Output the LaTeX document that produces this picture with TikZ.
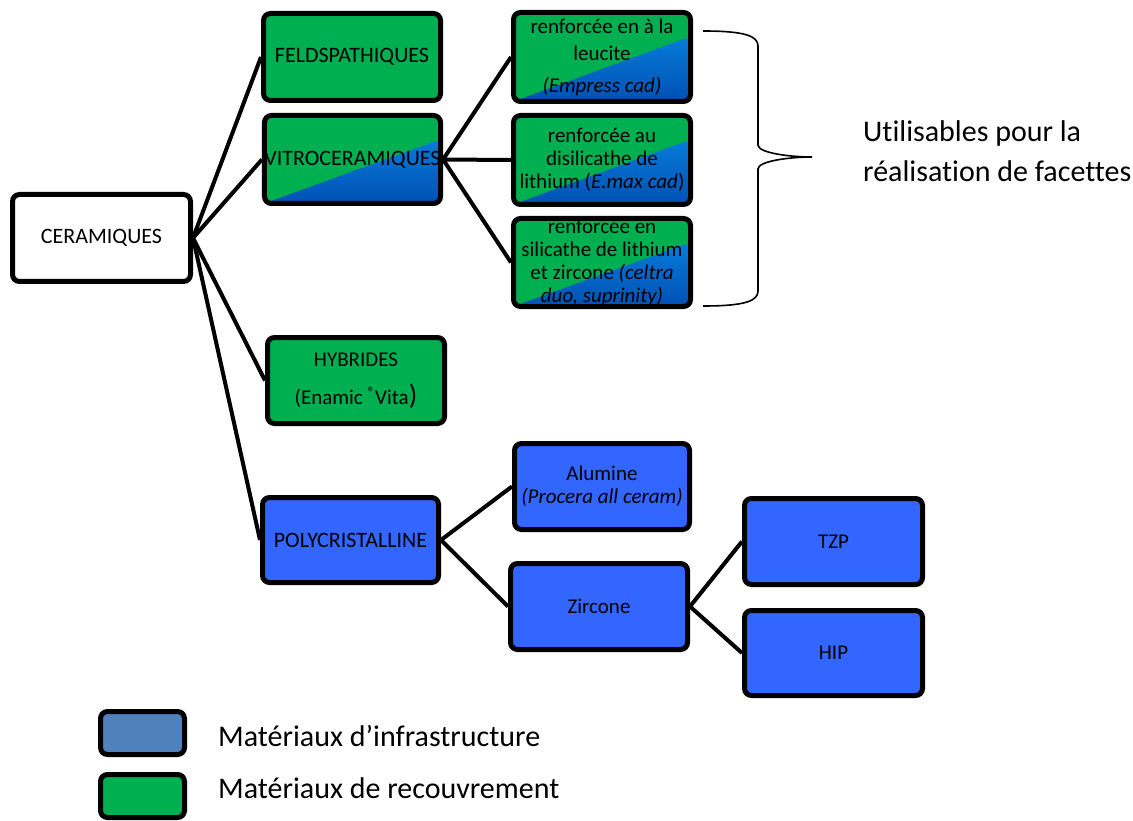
\documentclass[tikz,border=0pt]{standalone}
\usepackage{fontspec}
\setmainfont{Carlito}[Ligatures=NoCommon]
\usetikzlibrary{calc}
\definecolor{grn}{HTML}{00B050}
\definecolor{blu}{HTML}{3366FF}
\definecolor{legblu}{HTML}{4F81BD}
\definecolor{gbl}{HTML}{0A8CE6}
\definecolor{gbd}{HTML}{0050B4}
\tikzset{
  box/.style={draw=black, line width=5pt, rounded corners=7pt, inner sep=0pt,
    align=center, font=\fontsize{21}{23}\selectfont},
  capsfont/.style={font=\fontsize{22}{23}\selectfont},
  whitebox/.style={box, fill=white},
  greenbox/.style={box, fill=grn},
  bluebox/.style={box, fill=blu},
  mixbox/.style={box, fill=grn, path picture={
     \shade[top color=gbl, bottom color=gbd]
       (path picture bounding box.south west)
       -- ($(path picture bounding box.north east)!0.27!(path picture bounding box.south east)$)
       -- (path picture bounding box.south east) -- cycle;}},
  legbox/.style={draw=black, line width=5pt, rounded corners=7pt, minimum width=84pt, minimum height=43pt},
  conn/.style={draw=black, line width=4pt},
  bracestyle/.style={draw=black, line width=1.6pt},
  bigtext/.style={inner sep=0pt, font=\fontsize{30}{40}\selectfont}
}
\begin{document}
\begin{tikzpicture}[x=1pt, y=-1pt]
\useasboundingbox (0,0) rectangle (1133,821);

\node[whitebox, capsfont, minimum width=178pt, minimum height=87pt] (cer) at (101.5,238) {CERAMIQUES};
\node[greenbox, capsfont, minimum width=177pt, minimum height=87pt] (feld) at (352,57) {FELDSPATHIQUES};
\node[mixbox, capsfont, minimum width=176pt, minimum height=88pt] (vitro) at (352.5,159.5) {VITROCERAMIQUES};
\node[mixbox, minimum width=177pt, minimum height=89pt] (b1) at (602,57)
  {renforcée en à la\\[4pt]leucite\\[9pt]\textit{(Empress cad)}};
\node[mixbox, minimum width=177pt, minimum height=89pt] (b2) at (602,160)
  {renforcée au\\disilicathe de\\lithium (\textit{E.max cad})};
\node[mixbox, minimum width=177pt, minimum height=88pt] (b3) at (602,262.5)
  {renforcée en\\silicathe de lithium\\et zircone \textit{(celtra}\\\textit{duo, suprinity)}};
\node[greenbox, minimum width=177pt, minimum height=86pt] (hyb) at (356,380.5)
  {HYBRIDES\\[15pt](Enamic \raisebox{0.32em}{\fontsize{15}{15}\selectfont ®}Vita{\fontsize{28}{23}\selectfont )}};
\node[bluebox, capsfont, minimum width=176pt, minimum height=85pt] (poly) at (350.5,540) {POLYCRISTALLINE};
\node[bluebox, minimum width=175pt, minimum height=86pt] (alu) at (602,486.5)
  {Alumine\\\textit{(Procera all ceram)}};
\node[bluebox, minimum width=177pt, minimum height=86pt] (zir) at (599,606.5) {Zircone};
\node[bluebox, minimum width=178pt, minimum height=86pt] (tzp) at (833.5,541.5) {TZP};
\node[bluebox, minimum width=178pt, minimum height=85pt] (hip) at (833.5,653) {HIP};

\draw[conn] (cer.east) -- (feld.west);
\draw[conn] (cer.east) -- (vitro.west);
\draw[conn] (cer.east) -- (hyb.west);
\draw[conn] (cer.east) -- (poly.west);
\draw[conn] (vitro.east) -- (b1.west);
\draw[conn] (vitro.east) -- (b2.west);
\draw[conn] (vitro.east) -- (b3.west);
\draw[conn] (poly.east) -- (alu.west);
\draw[conn] (poly.east) -- (zir.west);
\draw[conn] (zir.east) -- (tzp.west);
\draw[conn] (zir.east) -- (hip.west);

% brace
\coordinate (bracetop) at (703,31);
\coordinate (bracetip) at (812,157);
\coordinate (bracebot) at (703,306);
\draw[bracestyle] (bracetop) .. controls (745,31) and (758,36) .. (758,46) -- (758,145)
  .. controls (758,153) and (790,157) .. (bracetip)
  .. controls (790,157) and (758,161) .. (758,169) -- (758,291)
  .. controls (758,301) and (745,306) .. (bracebot);
\node[bigtext, anchor=base west] (fac1) at (863,142) {Utilisables pour la};
\node[bigtext, anchor=base west] (fac2) at (863,182) {réalisation de facettes};

% legend
\node[legbox, fill=legblu] (leg1) at (142.5,733) {};
\node[legbox, fill=grn] (leg2) at (142.5,796) {};
\node[bigtext, anchor=base west] (legt1) at (218,746) {Matériaux d’infrastructure};
\node[bigtext, anchor=base west] (legt2) at (218,798) {Matériaux de recouvrement};
\end{tikzpicture}
\end{document}
